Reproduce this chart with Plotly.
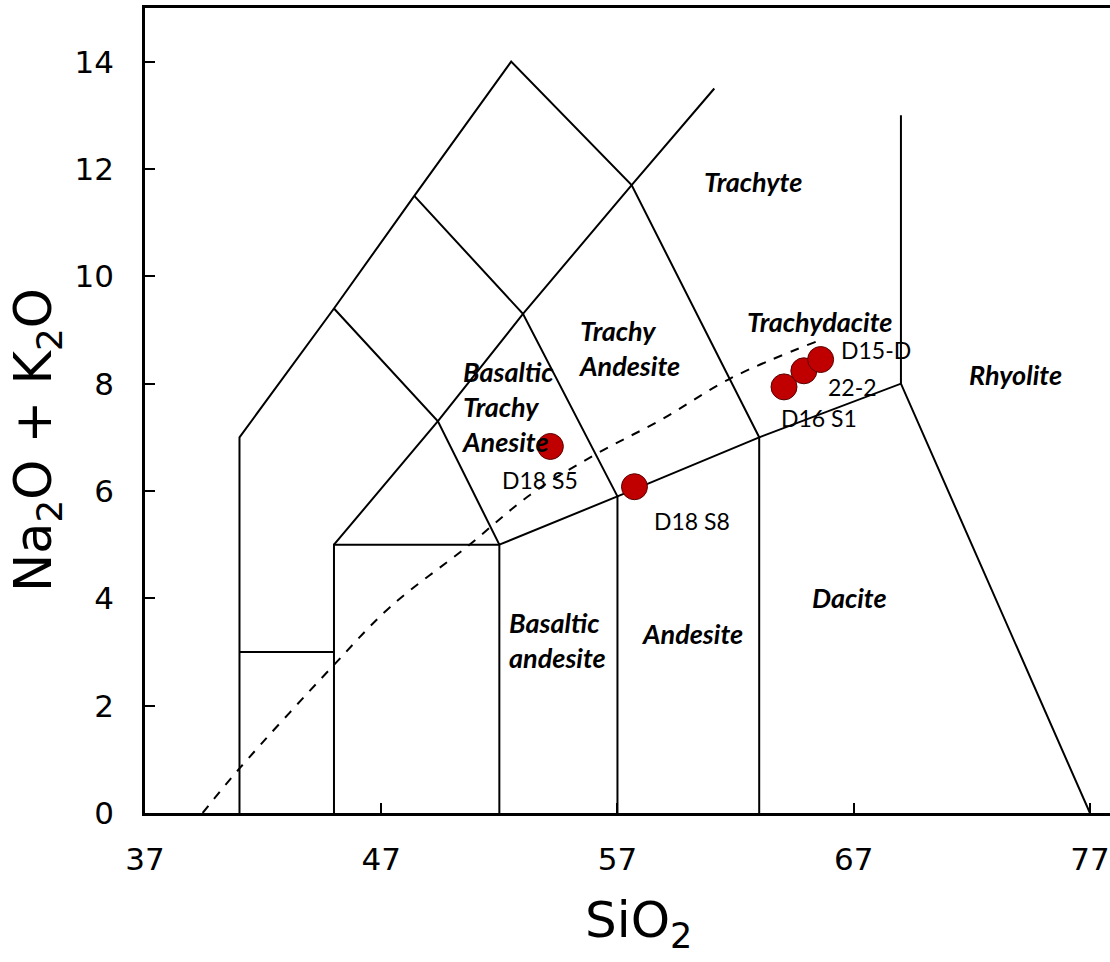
import plotly.graph_objects as go

# ---- data ----
sample_names = ["D18 S5", "D18 S8", "D16 S1", "22-2", "D15-D"]
sample_sio2 = [54.16, 57.72, 64.05, 64.89, 65.60]
sample_alk = [6.83, 6.08, 7.94, 8.24, 8.45]

# TAS field boundaries (SiO2, Na2O+K2O)
boundary_lines = [
    [(41, 0), (41, 7), (45, 9.4), (48.4, 11.5), (52.5, 14), (57.6, 11.7), (63, 7), (63, 0)],
    [(41, 3), (45, 3)],
    [(45, 0), (45, 5), (52, 5), (52, 0)],
    [(52, 5), (57, 5.9), (63, 7), (69, 8), (77, 0)],
    [(57, 0), (57, 5.9), (53, 9.3), (48.4, 11.5)],
    [(45, 5), (49.4, 7.3), (53, 9.3), (57.6, 11.7), (61.1, 13.5)],
    [(45, 9.4), (49.4, 7.3), (52, 5)],
    [(69, 8), (69, 13)],
]

# alkaline / subalkaline divide
divide_sio2 = [39.44, 41.0, 45.0, 47.38, 50.63, 53.31, 56.14, 58.82, 61.79, 65.39]
divide_alk = [0.0, 0.83, 2.76, 3.84, 4.96, 5.93, 6.70, 7.32, 8.10, 8.78]

# centred field labels
field_names = ["Trachyte", "Trachydacite", "Rhyolite", "Andesite", "Dacite"]
field_sio2 = [62.74, 65.57, 73.83, 60.15, 66.84]
field_alk = [11.76, 9.15, 8.18, 3.35, 4.02]

# left-aligned multi-line field labels
field2_names = ["Trachy<br>Andesite", "Basaltic<br>Trachy<br>Anesite", "Basaltic<br>andesite"]
field2_sio2 = [55.29, 50.33, 52.37]
field2_alk = [8.66, 7.58, 3.22]

label_sio2 = [53.72, 60.15, 65.53, 66.93, 67.94]
label_alk = [6.20, 5.44, 7.36, 7.94, 8.63]

x_ticks = [37, 47, 57, 67, 77]
y_ticks = [0, 2, 4, 6, 8, 10, 12, 14]

x_title = "SiO<sub>2</sub>"
y_title = "Na<sub>2</sub>O + K<sub>2</sub>O"

fig = go.Figure()

for seg in boundary_lines:
    fig.add_trace(go.Scatter(x=[p[0] for p in seg], y=[p[1] for p in seg], mode="lines",
                             line=dict(color="black", width=2), hoverinfo="skip", showlegend=False))

fig.add_trace(go.Scatter(x=divide_sio2, y=divide_alk, mode="lines",
                         line=dict(color="black", width=2, dash="dash", shape="spline"),
                         hoverinfo="skip", showlegend=False))

fig.add_trace(go.Scatter(x=sample_sio2, y=sample_alk, mode="markers",
                         marker=dict(size=26, color="#C00000", line=dict(color="#5a0000", width=1)),
                         showlegend=False))

region_font = dict(family="Lato", size=27, color="black")
for name, x, y in zip(field_names, field_sio2, field_alk):
    fig.add_annotation(x=x, y=y, text="<b><i>" + name + "</i></b>", showarrow=False,
                       font=region_font, align="center")

for name, x, y in zip(field2_names, field2_sio2, field2_alk):
    fig.add_annotation(x=x, y=y, text="<b><i>" + name + "</i></b>", showarrow=False,
                       font=region_font, align="left", xanchor="left", borderpad=0)

for name, x, y in zip(sample_names, label_sio2, label_alk):
    fig.add_annotation(x=x, y=y, text=name, showarrow=False,
                       font=dict(family="Lato", size=23, color="black"))

# axis titles
fig.add_annotation(xref="paper", yref="paper", x=0.454, y=-0.094, xanchor="left", yanchor="top",
                   text=x_title, showarrow=False,
                   font=dict(family="DejaVu Sans", size=50, color="black"))
fig.add_annotation(xref="paper", yref="paper", x=-0.112, y=0.4634, xanchor="center", yanchor="middle",
                   text=y_title, showarrow=False, textangle=-90,
                   font=dict(family="DejaVu Sans", size=51, color="black"))

fig.update_layout(
    width=1110, height=962,
    margin=dict(l=145, r=0, t=8, b=149),
    paper_bgcolor="white", plot_bgcolor="white",
    xaxis=dict(range=[37, 77.85], tickvals=x_ticks, ticks="inside", ticklen=10, tickwidth=2,
               tickcolor="black", showline=True, linecolor="black", linewidth=2.5, mirror=True,
               showgrid=False, zeroline=False, ticklabelstandoff=17,
               tickfont=dict(family="DejaVu Sans", size=31, color="black")),
    yaxis=dict(range=[0, 15], tickvals=y_ticks, ticks="inside", ticklen=10, tickwidth=2,
               tickcolor="black", showline=True, linecolor="black", linewidth=2.5, mirror=False,
               showgrid=False, zeroline=False, ticklabelstandoff=22,
               tickfont=dict(family="DejaVu Sans", size=31, color="black")),
)

fig.write_html("out.html")
